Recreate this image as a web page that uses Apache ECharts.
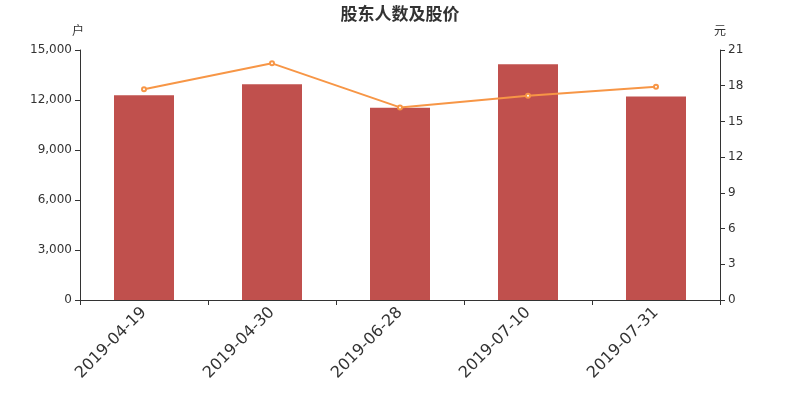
<!DOCTYPE html>
<html><head><meta charset="utf-8">
<script src="https://cdn.jsdelivr.net/npm/echarts@6/dist/echarts.min.js"></script>
<style>html,body{margin:0;padding:0;background:#fff}#c{width:800px;height:400px}</style>
</head><body><div id="c"></div>
<script>
const categories = ['2019-04-19','2019-04-30','2019-06-28','2019-07-10','2019-07-31'];
const holders = [12280, 12950, 11530, 14150, 12210];
const price = [17.70, 19.88, 16.18, 17.16, 17.92];
const chart = echarts.init(document.getElementById('c'));
const axisText = {color:'#333', fontSize:12, fontFamily:'DejaVu Sans'};
chart.setOption({
  animation:false,
  title:{text:'股东人数及股价', left:'center', top:0, textStyle:{fontSize:17, fontWeight:'bold', color:'#333', fontFamily:'Noto Sans CJK SC'}},
  grid:{left:80, right:80, top:50, bottom:100},
  xAxis:{type:'category', data:categories, boundaryGap:true,
    axisLine:{lineStyle:{color:'#333'}}, axisTick:{show:true, lineStyle:{color:'#333'}},
    axisLabel:{rotate:45, fontSize:16, color:'#333', fontFamily:'DejaVu Sans', margin:10}},
  yAxis:[
    {type:'value', name:'户', nameGap:14, min:0, max:15000, interval:3000, position:'left',
     nameTextStyle:{color:'#333', fontSize:12, align:'right', padding:[0,-4,0,0], fontFamily:'Noto Sans CJK SC'},
     axisLine:{show:true, lineStyle:{color:'#333'}}, axisTick:{show:true, lineStyle:{color:'#333'}},
     splitLine:{show:false}, axisLabel:axisText},
    {type:'value', name:'元', nameGap:14, min:0, max:21, interval:3, position:'right',
     nameTextStyle:{color:'#333', fontSize:12, align:'center', padding:[0,0,0,0], fontFamily:'Noto Sans CJK SC'},
     axisLine:{show:true, lineStyle:{color:'#333'}}, axisTick:{show:true, lineStyle:{color:'#333'}},
     splitLine:{show:false}, axisLabel:axisText}
  ],
  series:[
    {type:'bar', data:holders, barWidth:60, itemStyle:{color:'#c0504d'}},
    {type:'line', yAxisIndex:1, data:price, symbol:'emptyCircle', symbolSize:4,
     lineStyle:{color:'#f79646', width:2}, itemStyle:{color:'#f79646'}}
  ]
});
</script></body></html>
